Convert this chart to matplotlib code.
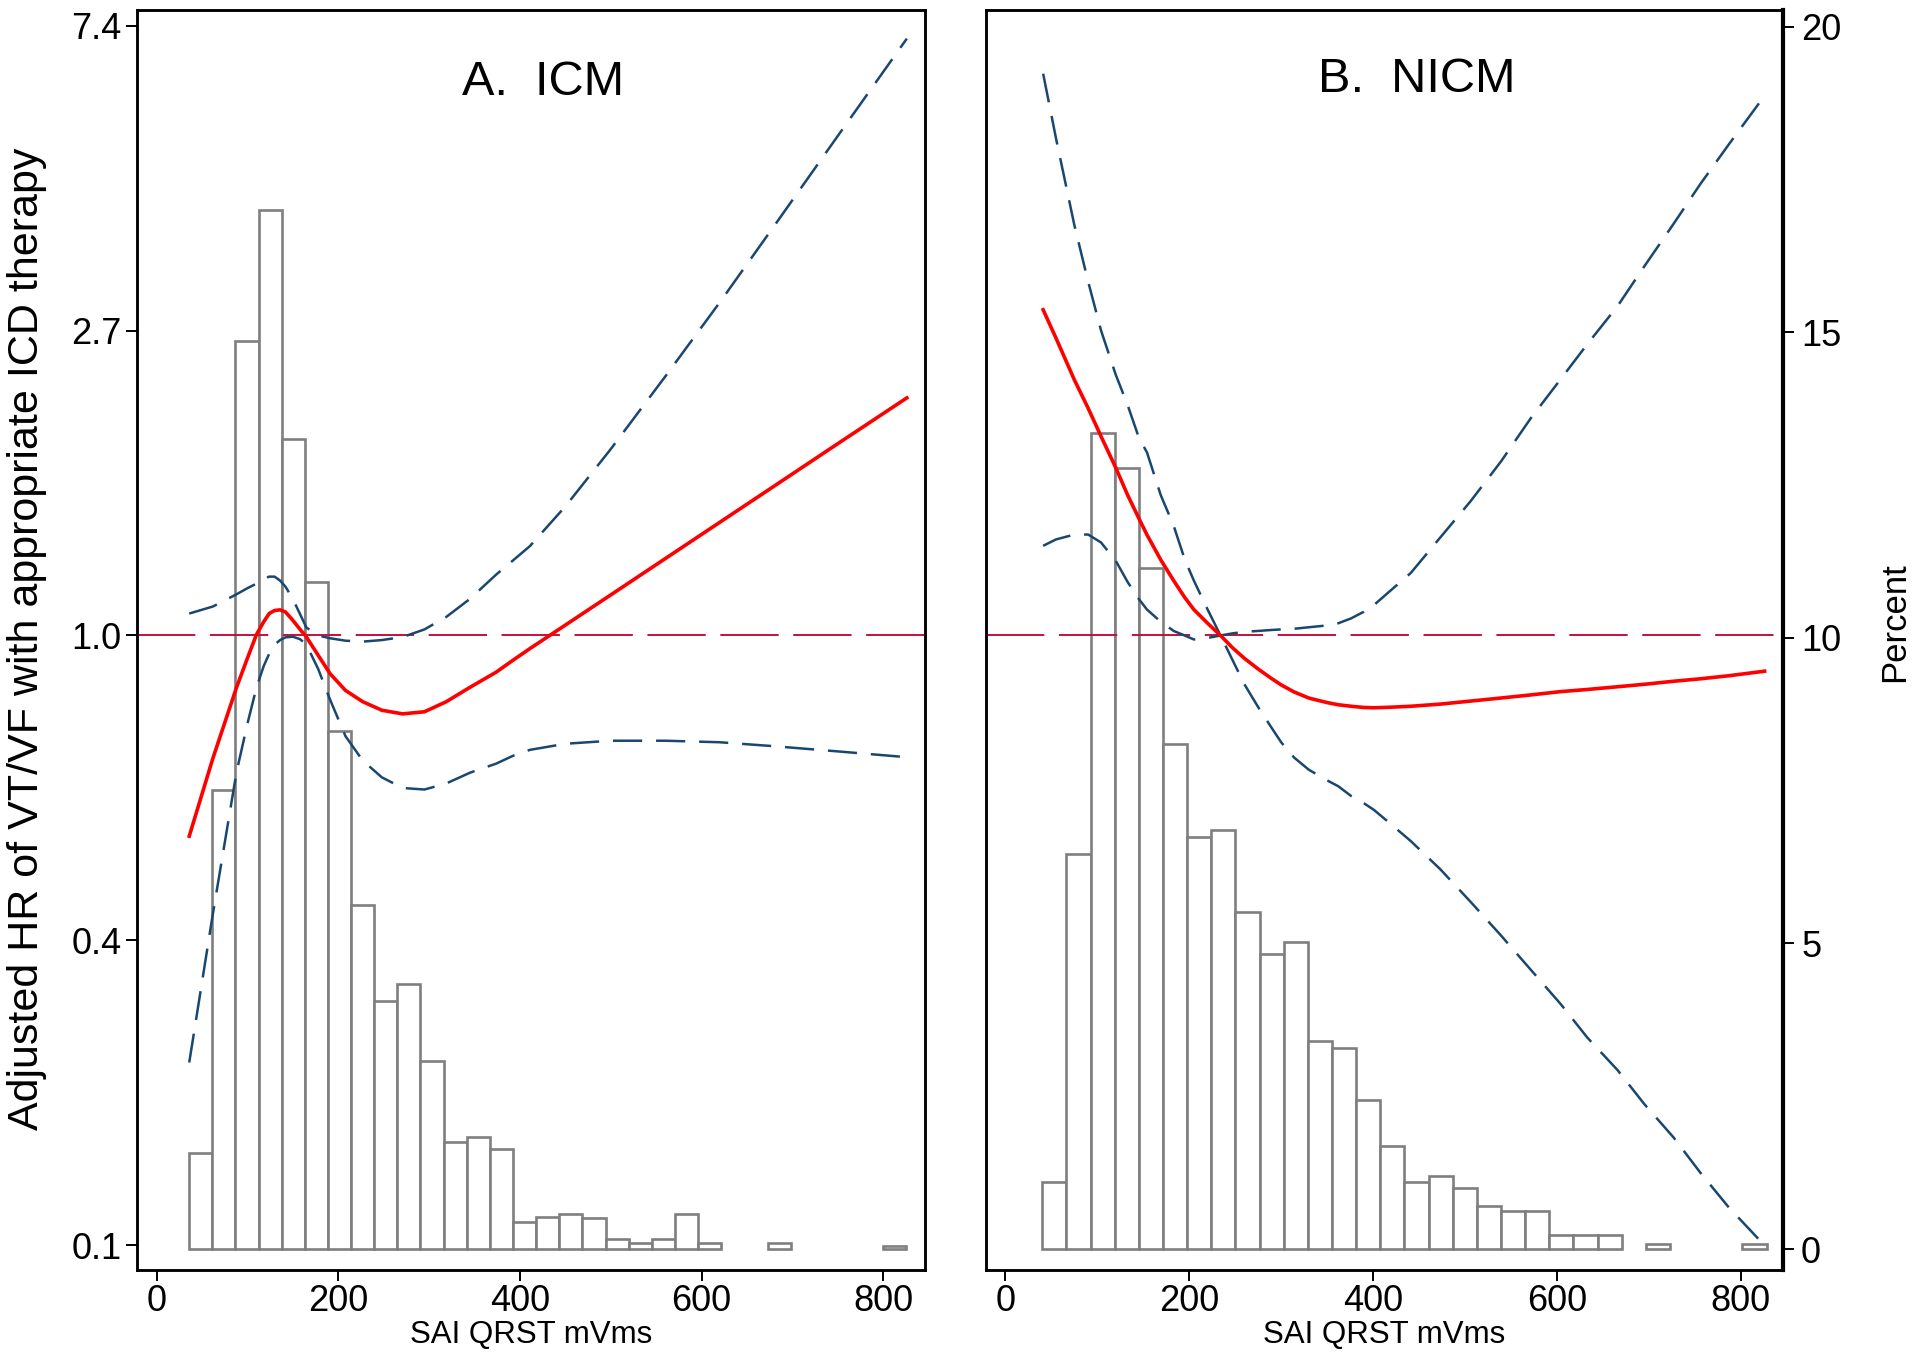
import numpy as np
import matplotlib
matplotlib.use("Agg")
import matplotlib.pyplot as plt
from matplotlib.ticker import NullLocator

plt.rcParams['font.family'] = ['Liberation Sans', 'DejaVu Sans']
plt.rcParams['lines.scale_dashes'] = False

# histogram of SAI QRST (percent of patients per bin)
icm_bin_start = 35.9
icm_bin_width = 25.47
icm_pct = [1.57, 7.51, 14.86, 17.0, 13.26, 10.91, 8.48, 5.63, 4.06, 4.33, 3.08,
           1.75, 1.84, 1.63, 0.45, 0.52, 0.58, 0.51, 0.17, 0.10, 0.17, 0.58,
           0.10, 0, 0, 0.10, 0, 0, 0, 0, 0.05]

nicm_bin_start = 40.0
nicm_bin_width = 26.27
nicm_pct = [1.10, 6.46, 13.35, 12.78, 11.15, 8.27, 6.74, 6.85, 5.51, 4.83, 5.03,
            3.40, 3.29, 2.44, 1.68, 1.10, 1.19, 1.00, 0.71, 0.62, 0.62, 0.23,
            0.23, 0.23, 0, 0.08, 0, 0, 0, 0.08]

# spline fits, log(HR) with 95% CI
icm_x = [36, 62, 88, 100, 110, 118, 124, 130, 136, 142, 150, 158, 165, 178,
         191, 208, 227, 248, 271, 295, 319, 345, 374, 392, 411, 450, 500, 560,
         620, 680, 750, 826]
icm_hr = [-0.658, -0.403, -0.171, -0.075, 0.003, 0.045, 0.072, 0.082, 0.084,
          0.077, 0.05, 0.02, -0.005, -0.065, -0.125, -0.18, -0.217, -0.245,
          -0.257, -0.25, -0.217, -0.17, -0.12, -0.082, -0.043, 0.034, 0.133,
          0.252, 0.371, 0.49, 0.629, 0.779]
icm_hi = [0.072, 0.095, 0.135, 0.155, 0.17, 0.185, 0.193, 0.193, 0.18, 0.16,
          0.12, 0.07, 0.026, 0.0, -0.009, -0.017, -0.02, -0.015, -0.005, 0.02,
          0.061, 0.12, 0.2, 0.245, 0.293, 0.423, 0.611, 0.849, 1.092, 1.343,
          1.638, 1.957]
icm_lo = [-1.40, -0.913, -0.449, -0.29, -0.171, -0.1, -0.06, -0.03, -0.015,
          -0.006, -0.004, -0.012, -0.03, -0.11, -0.21, -0.33, -0.41, -0.465,
          -0.50, -0.505, -0.485, -0.45, -0.42, -0.395, -0.375, -0.355, -0.345,
          -0.345, -0.35, -0.363, -0.38, -0.399]

nicm_x = [41, 55, 75, 90, 104, 120, 133, 145, 154, 169, 183, 195, 205, 220,
          234, 247, 260, 275, 289, 300, 314, 330, 350, 362, 376, 390, 401, 420,
          441, 473, 506, 539, 571, 604, 633, 666, 695, 727, 756, 787, 826]
nicm_hr = [1.068, 0.975, 0.838, 0.745, 0.653, 0.55, 0.46, 0.385, 0.33, 0.248,
           0.18, 0.125, 0.085, 0.04, 0.0, -0.04, -0.075, -0.11, -0.14, -0.162,
           -0.185, -0.205, -0.22, -0.227, -0.232, -0.236, -0.237, -0.235,
           -0.232, -0.225, -0.215, -0.205, -0.195, -0.184, -0.177, -0.168,
           -0.16, -0.15, -0.142, -0.132, -0.117]
nicm_ci_a = [1.842, 1.63, 1.345, 1.16, 1.0, 0.855, 0.755, 0.65, 0.6, 0.46,
             0.36, 0.25, 0.18, 0.085, 0.0, -0.08, -0.16, -0.235, -0.30, -0.35,
             -0.40, -0.44, -0.475, -0.494, -0.526, -0.55, -0.572, -0.62,
             -0.674, -0.766, -0.873, -0.983, -1.094, -1.208, -1.318, -1.425,
             -1.536, -1.646, -1.761, -1.875, -2.0]
nicm_ci_b = [0.294, 0.315, 0.331, 0.331, 0.305, 0.245, 0.175, 0.12, 0.085,
             0.045, 0.015, 0.0, -0.013, -0.008, 0.0, 0.007, 0.012, 0.015, 0.018,
             0.02, 0.022, 0.027, 0.033, 0.04, 0.056, 0.078, 0.1, 0.15, 0.205,
             0.321, 0.44, 0.57, 0.71, 0.84, 0.955, 1.08, 1.21, 1.35, 1.48,
             1.61, 1.77]

hr_tick_labels = ['0.1', '0.4', '1.0', '2.7', '7.4']
pct_ticks = [0, 5, 10, 15, 20]
x_ticks = [0, 200, 400, 600, 800]

NAVY = '#1a476f'
TICK_SIZE = 26


def draw_panel(ax, bin_start, bin_width, pct, x, hr, cis):
    ax2 = ax.twinx()
    pct = np.array(pct)
    left = bin_start + bin_width * np.arange(len(pct))
    keep = pct > 0
    ax2.bar(left[keep], pct[keep], width=bin_width, align='edge',
            color='white', edgecolor='#7f7f7f', linewidth=1.9)
    ax2.set_ylim(-0.34, 20.28)

    ax.set_zorder(ax2.get_zorder() + 1)
    ax.patch.set_visible(False)
    ax.set_yscale('log')
    ax.axhline(1.0, color='#c4103e', lw=1.4, dashes=(42, 10.5))
    for ci in cis:
        ax.plot(x, np.exp(ci), color=NAVY, lw=1.8, dashes=(21, 10))
    ax.plot(x, np.exp(hr), color='red', lw=2.6)

    ax.set_xlim(-21.5, 846)
    ax.set_ylim(np.exp(-2.0797), np.exp(2.0515))
    ax.set_xticks(x_ticks)
    ax.tick_params(axis='x', labelsize=TICK_SIZE, length=8, width=1.4, pad=2)
    ax.yaxis.set_minor_locator(NullLocator())
    for a in (ax, ax2):
        for s in a.spines.values():
            s.set_linewidth(1.8)
    return ax2


fig = plt.figure(figsize=(19.2, 13.53), dpi=100)
W, H = 1920, 1353
bottom = 1 - 1269.8 / H
height = 1260 / H
axL = fig.add_axes([137 / W, bottom, 788 / W, height])
axR = fig.add_axes([985.7 / W, bottom, 797.3 / W, height])

axL2 = draw_panel(axL, icm_bin_start, icm_bin_width, icm_pct,
                  icm_x, icm_hr, [icm_hi, icm_lo])
axR2 = draw_panel(axR, nicm_bin_start, nicm_bin_width, nicm_pct,
                  nicm_x, nicm_hr, [nicm_ci_a, nicm_ci_b])

# left panel: HR axis on the left, no percent ticks
axL.set_yticks(np.exp(np.arange(-2, 3)))
axL.set_yticklabels(hr_tick_labels)
axL.tick_params(axis='y', labelsize=TICK_SIZE, length=8, width=1.4, pad=3)
axL2.set_yticks([])

# right panel: percent axis on the right only
axR.set_yticks([])
axR2.set_yticks(pct_ticks)
axR2.tick_params(axis='y', labelsize=TICK_SIZE, length=8, width=1.4, pad=5)
axR2.spines['right'].set_linewidth(3)

fig.text(0.2831, 0.930, 'A.  ICM', fontsize=35, ha='center', va='baseline')
fig.text(0.7379, 0.932, 'B.  NICM', fontsize=35, ha='center', va='baseline')
fig.text(0.2766, 1 - 1335 / H, 'SAI QRST mVms', fontsize=22.5,
         ha='center', va='center')
fig.text(0.721, 1 - 1335 / H, 'SAI QRST mVms', fontsize=22.5,
         ha='center', va='center')
fig.text(27 / W, 1 - 639 / H, 'Adjusted HR of VT/VF with appropriate ICD therapy',
         fontsize=31, rotation=90, ha='center', va='center')
fig.text(1895 / W, 1 - 622 / H, 'Percent', fontsize=25, rotation=90,
         ha='center', va='center')

fig.savefig('out.png', dpi=100)
